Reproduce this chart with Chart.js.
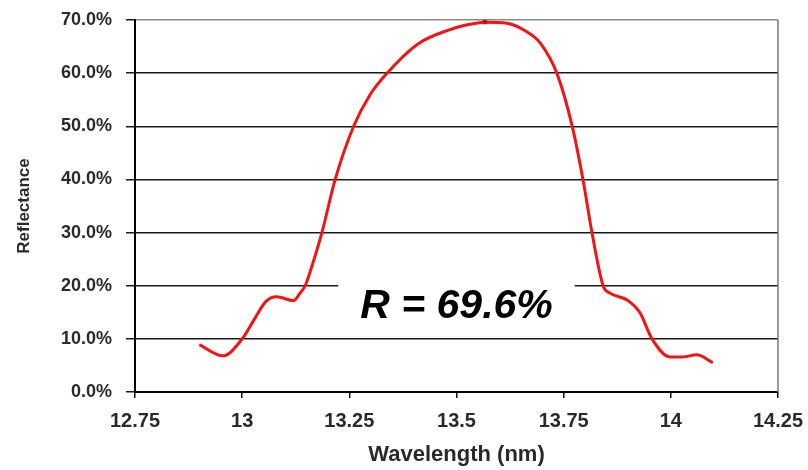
<!DOCTYPE html>
<html>
<head>
<meta charset="utf-8">
<title>Reflectance vs Wavelength</title>
<script src="https://cdn.jsdelivr.net/npm/chart.js@4.4.1/dist/chart.umd.min.js"></script>
<style>
  html, body { margin: 0; padding: 0; background: #fff; }
  #wrap { width: 808px; height: 470px; }
</style>
</head>
<body>
<div id="wrap"><canvas id="reflCanvas" width="808" height="470"></canvas></div>
<script>
// measured multilayer reflectance: wavelength (nm) / reflectance (%)
const wavelength = [
  12.900, 12.955, 13.000, 13.030, 13.055, 13.080, 13.120, 13.135, 13.147,
  13.160, 13.186, 13.217, 13.260, 13.298, 13.338, 13.410, 13.485, 13.520, 13.566,
  13.618, 13.664, 13.695, 13.734, 13.770, 13.795, 13.816, 13.842, 13.858, 13.898,
  13.928, 13.956, 13.998, 14.028, 14.060, 14.098
];
const reflectance = [
  8.9, 6.8, 10.0, 13.9, 17.0, 17.9, 17.2, 18.6, 20.0,
  23.0, 30.0, 40.0, 50.0, 55.9, 60.0, 65.5, 68.2, 69.0, 69.6,
  69.4, 67.8, 65.7, 60.0, 50.0, 40.0, 30.0, 20.0, 18.6, 17.3,
  14.9, 10.0, 6.6, 6.6, 7.0, 5.5
];

const xTicks = [12.75, 13, 13.25, 13.5, 13.75, 14, 14.25];
const xTickLabels = ['12.75', '13', '13.25', '13.5', '13.75', '14', '14.25'];
const yTickLabels = ['0.0%', '10.0%', '20.0%', '30.0%', '40.0%', '50.0%', '60.0%', '70.0%'];

const peakValue = Math.max(...reflectance);
const peakIndex = reflectance.indexOf(peakValue);
const peakLabel = 'R = ' + peakValue.toFixed(1) + '%';
const labelAt = { x: 13.5, y: 14 };   // label anchor in data units

const FONT = 'Liberation Sans, Arial, Helvetica, sans-serif';
const labelFont = 'italic bold 41px ' + FONT;

// white patch + label for the peak value, right frame edge
const peakNote = {
  id: 'peakNote',
  beforeDatasetsDraw(chart) {
    const { ctx, chartArea: a, scales } = chart;
    ctx.save();
    ctx.strokeStyle = '#7a7a7a';
    ctx.lineWidth = 1.5;
    ctx.beginPath();
    ctx.moveTo(a.right, a.top);
    ctx.lineTo(a.right, a.bottom);
    ctx.stroke();

    ctx.font = labelFont;
    const w = ctx.measureText(peakLabel).width;
    const cx = scales.x.getPixelForValue(labelAt.x);
    const by = scales.y.getPixelForValue(labelAt.y);
    ctx.fillStyle = '#fff';
    ctx.fillRect(cx - w / 2 - 22, by - 42, w + 44, 56);
    ctx.restore();
  },
  afterDatasetsDraw(chart) {
    const { ctx, scales } = chart;
    ctx.save();
    ctx.font = labelFont;
    ctx.fillStyle = '#000';
    ctx.textAlign = 'center';
    ctx.textBaseline = 'alphabetic';
    ctx.fillText(peakLabel, scales.x.getPixelForValue(labelAt.x), scales.y.getPixelForValue(labelAt.y));
    ctx.restore();
  }
};

const points = wavelength.map((w, i) => ({ x: w, y: reflectance[i] }));

new Chart(document.getElementById('reflCanvas'), {
  type: 'scatter',
  data: {
    datasets: [{
      data: points,
      showLine: true,
      borderColor: '#f21414',
      backgroundColor: '#d01010',
      borderWidth: 3,
      cubicInterpolationMode: 'monotone',
      pointStyle: 'rect',
      pointRadius: ctx => ctx.dataIndex === peakIndex ? 3 : 0,
      pointBorderWidth: 0
    }]
  },
  options: {
    responsive: false,
    animation: false,
    layout: { padding: { top: 20, right: 30, left: 0, bottom: 0 } },
    plugins: { legend: { display: false }, tooltip: { enabled: false } },
    scales: {
      x: {
        type: 'linear',
        min: 12.75,
        max: 14.25,
        afterBuildTicks: s => { s.ticks = xTicks.map(v => ({ value: v })); },
        afterFit: s => { s.height = 78; s.paddingLeft = 0; s.paddingRight = 0; },
        ticks: {
          callback: (v, i) => xTickLabels[i],
          font: { family: FONT, size: 20, weight: 'bold' },
          color: '#2a2a2a',
          padding: 11,
          maxRotation: 0
        },
        grid: { drawOnChartArea: false, drawTicks: true, tickLength: 6, color: '#111', lineWidth: 1.5 },
        border: { color: '#000', width: 2 },
        title: {
          display: true,
          text: 'Wavelength (nm)',
          font: { family: FONT, size: 22, weight: 'bold' },
          color: '#2a2a2a',
          padding: { top: 0, bottom: 2 }
        }
      },
      y: {
        min: 0,
        max: 70,
        afterFit: s => { s.width = 135; s.paddingTop = 0; s.paddingBottom = 0; },
        ticks: {
          stepSize: 10,
          callback: (v, i) => yTickLabels[i],
          font: { family: FONT, size: 18, weight: 'bold' },
          color: '#2a2a2a',
          padding: 14
        },
        grid: {
          color: ctx => ctx.tick && ctx.tick.value === 70 ? '#8a8a8a' : '#1a1a1a',
          tickColor: '#1a1a1a',
          lineWidth: 1.5,
          tickLength: 9
        },
        border: { color: '#000', width: 2 },
        title: {
          display: true,
          text: 'Reflectance',
          font: { family: FONT, size: 17, weight: 'bold' },
          color: '#2a2a2a',
          padding: { top: 14, bottom: 0 }
        }
      }
    }
  },
  plugins: [peakNote]
});
</script>
</body>
</html>
